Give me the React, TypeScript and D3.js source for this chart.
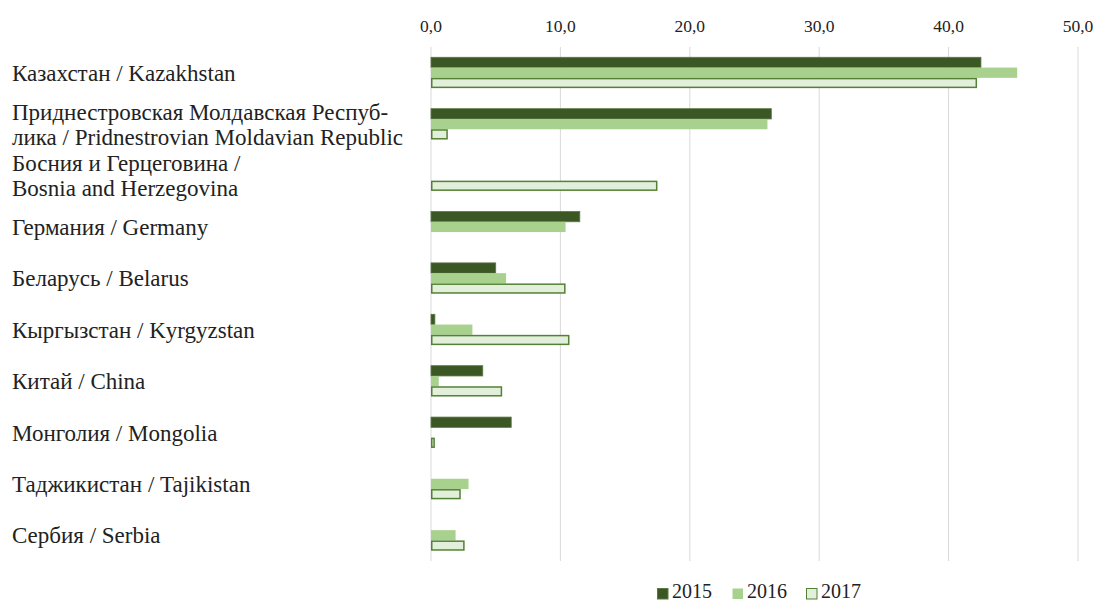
import React from "react";
import * as d3 from "d3";

const categories: string[][] = [
  ["Казахстан / Kazakhstan"],
  ["Приднестровская Молдавская Респуб-", "лика / Pridnestrovian Moldavian Republic"],
  ["Босния и Герцеговина /", "Bosnia and Herzegovina"],
  ["Германия / Germany"],
  ["Беларусь / Belarus"],
  ["Кыргызстан / Kyrgyzstan"],
  ["Китай / China"],
  ["Монголия / Mongolia"],
  ["Таджикистан / Tajikistan"],
  ["Сербия / Serbia"],
];

const years = ["2015", "2016", "2017"];
const values2015: (number | null)[] = [42.5, 26.3, null, 11.5, 5.0, 0.3, 4.0, 6.2, null, null];
const values2016: (number | null)[] = [45.3, 26.0, null, 10.4, 5.8, 3.2, 0.6, null, 2.9, 1.9];
const values2017: (number | null)[] = [42.2, 1.3, 17.5, null, 10.4, 10.7, 5.5, 0.3, 2.3, 2.6];
const series = [values2015, values2016, values2017];
const ticks = [0, 10, 20, 30, 40, 50];

const fills = ["#3a5724", "#a9d18e", "#e2efda"];
const strokes = ["#5a7a44", "#a9d18e", "#538135"];

export default function App() {
  const W = 1093, H = 603;
  const left = 431, right = 1078, top = 47, bottom = 561;
  const x = d3.scaleLinear().domain([0, 50]).range([left, right]);
  const y = d3.scaleBand<number>().domain(d3.range(categories.length)).range([top, bottom]).paddingInner(0.4).paddingOuter(0.2);
  const inner = d3.scaleBand<number>().domain([0, 1, 2]).range([0, y.bandwidth()]);
  const fmt = (v: number) => v.toFixed(1).replace(".", ",");
  const font = "'Liberation Serif', 'Times New Roman', serif";
  const lineH = 25;
  const legendX = [657, 732, 806];

  return (
    <svg width={W} height={H} style={{ position: "absolute", left: 0, top: 0, background: "#fff", fontFamily: font }}>
      {ticks.map((t) => (
        <g key={t}>
          <line x1={x(t)} x2={x(t)} y1={top} y2={bottom} stroke="#d9d9d9" strokeWidth={1} />
          <text x={x(t)} y={32} textAnchor="middle" fontSize={17.5} fill="#222">{fmt(t)}</text>
        </g>
      ))}
      {categories.map((lines, i) => {
        const cy = (y(i) as number) + y.bandwidth() / 2;
        const start = cy - ((lines.length - 1) * lineH) / 2;
        return (
          <text key={i} x={12} fontSize={23} fill="#222" dominantBaseline="central">
            {lines.map((l, j) => (
              <tspan key={j} x={12} y={start + j * lineH}>{l}</tspan>
            ))}
          </text>
        );
      })}
      {series.map((vals, s) =>
        vals.map((v, i) =>
          v == null ? null : (
            <rect
              key={`${s}-${i}`}
              x={x(0) + (s === 2 ? 0.75 : 0)}
              y={(y(i) as number) + (inner(s) as number) + (s === 2 ? 0.75 : 0)}
              width={Math.max(0, x(v) - x(0) - (s === 2 ? 1.5 : 0))}
              height={inner.bandwidth() - (s === 2 ? 1.5 : 0)}
              fill={fills[s]}
              stroke={s === 1 ? "none" : strokes[s]}
              strokeWidth={s === 2 ? 1.5 : 0.8}
            />
          )
        )
      )}
      {years.map((yr, s) => (
        <g key={yr}>
          <rect x={legendX[s] + 0.5} y={588.5} width={10.5} height={10.5} fill={fills[s]} stroke={s === 1 ? "none" : strokes[s]} strokeWidth={1} />
          <text x={legendX[s] + 15} y={598} fontSize={20} fill="#222">{yr}</text>
        </g>
      ))}
    </svg>
  );
}
